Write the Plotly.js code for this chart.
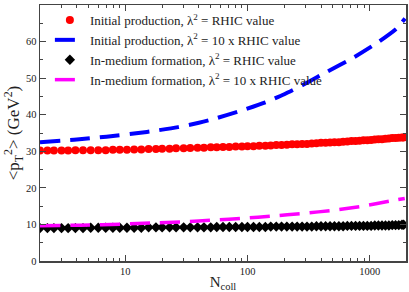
<!DOCTYPE html>
<html>
<head>
<meta charset="utf-8">
<script src="https://cdn.plot.ly/plotly-3.0.1.min.js"></script>
<style>html,body{margin:0;padding:0;background:#fff;}#chart{width:409px;height:292px;}</style>
</head>
<body>
<div id="chart"></div>
<script>
// N_coll values for marker series
const nColl = [2, 2.3, 2.6, 3, 3.4, 3.9, 4.5, 5.2, 6, 6.9, 7.9, 9, 10.3, 11.8, 13.5, 15.5, 17.8, 20, 23, 26, 30, 34, 39, 44, 50, 56, 63, 71, 80, 90, 100, 112, 125, 140, 155, 172, 190, 210, 232, 255, 280, 307, 336, 367, 400, 436, 474, 515, 560, 607, 657, 710, 767, 827, 890, 957, 1028, 1102, 1180, 1262, 1348, 1438, 1532, 1630, 1732, 1840, 1900];
// Initial production, lambda^2 = RHIC value
const initialRhic = [30.2, 30.2, 30.2, 30.2, 30.2, 30.3, 30.3, 30.3, 30.3, 30.3, 30.4, 30.4, 30.4, 30.5, 30.5, 30.6, 30.6, 30.7, 30.7, 30.8, 30.8, 30.9, 31.0, 31.0, 31.1, 31.1, 31.2, 31.2, 31.3, 31.3, 31.4, 31.4, 31.5, 31.5, 31.6, 31.7, 31.7, 31.8, 31.9, 31.9, 32.0, 32.0, 32.1, 32.2, 32.3, 32.3, 32.4, 32.5, 32.5, 32.6, 32.7, 32.8, 32.8, 32.9, 33.0, 33.0, 33.1, 33.2, 33.3, 33.3, 33.4, 33.5, 33.6, 33.6, 33.7, 33.8, 33.8];
// In-medium formation, lambda^2 = RHIC value
const mediumRhic = [9.0, 9.0, 9.0, 9.0, 9.0, 9.0, 9.0, 9.1, 9.1, 9.1, 9.1, 9.1, 9.1, 9.1, 9.1, 9.2, 9.2, 9.2, 9.2, 9.2, 9.2, 9.2, 9.2, 9.2, 9.2, 9.3, 9.3, 9.3, 9.3, 9.3, 9.3, 9.3, 9.3, 9.3, 9.4, 9.4, 9.4, 9.4, 9.4, 9.4, 9.4, 9.4, 9.4, 9.5, 9.5, 9.5, 9.5, 9.5, 9.5, 9.5, 9.6, 9.6, 9.6, 9.6, 9.6, 9.6, 9.6, 9.7, 9.7, 9.7, 9.7, 9.7, 9.8, 9.8, 9.8, 9.9, 9.9];
// Initial production, lambda^2 = 10 x RHIC value
const nBlue = [2, 4, 7, 15, 27, 40, 50, 90, 140, 200, 283, 445, 727, 1145, 1665, 1950];
const initialTen = [32.5, 33.2, 34.0, 35.3, 36.6, 37.8, 38.6, 41.2, 43.4, 45.6, 48.1, 51.7, 55.5, 59.6, 63.6, 66.3];
// In-medium formation, lambda^2 = 10 x RHIC value
const nPink = [2, 4.3, 9.8, 16, 30, 53, 94, 158, 283, 510, 880, 1530, 1940];
const mediumTen = [9.65, 9.8, 10.1, 10.4, 10.7, 11.2, 11.7, 12.3, 13.0, 13.9, 15.0, 16.5, 17.1];

const names = [
  'Initial production, \u03bb<sup>2</sup> = RHIC value',
  'Initial production, \u03bb<sup>2</sup> = 10 x RHIC value',
  'In-medium formation, \u03bb<sup>2</sup> = RHIC value',
  'In-medium formation, \u03bb<sup>2</sup> = 10 x RHIC value'
];
const xTickVals = [10, 100, 1000];
const xTickText = ['10', '100', '1000'];
const xMinorVals = [2,3,4,5,6,7,8,9,20,30,40,50,60,70,80,90,200,300,400,500,600,700,800,900];

const traces = [
  {x: nColl, y: initialRhic, name: names[0], type: 'scatter', mode: 'markers',
   marker: {symbol: 'circle', size: 8, color: '#ff0000'}},
  {x: nBlue, y: initialTen, name: names[1], type: 'scatter', mode: 'lines',
   line: {color: '#0000ff', width: 4, dash: '20px,10px', shape: 'spline', smoothing: 0.6}},
  {x: nColl, y: mediumRhic, name: names[2], type: 'scatter', mode: 'markers',
   marker: {symbol: 'diamond', size: 8, color: '#000000'}},
  {x: nPink, y: mediumTen, name: names[3], type: 'scatter', mode: 'lines',
   line: {color: '#ff00ff', width: 3.5, dash: '20px,10px', shape: 'spline', smoothing: 0.6}}
];

const serif = '"Liberation Serif", "Times New Roman", Times, serif';
const axisFont = {family: serif, size: 10.5, color: '#222'};
const layout = {
  width: 409, height: 292,
  margin: {l: 40, r: 3, t: 5, b: 31},
  paper_bgcolor: '#fff', plot_bgcolor: '#fff',
  font: {family: serif, color: '#222'},
  showlegend: true,
  legend: {x: 0.027, y: 1.0, xanchor: 'left', yanchor: 'top', bgcolor: 'rgba(0,0,0,0)',
           font: {family: serif, size: 13, color: '#222'}, tracegroupgap: 0},
  xaxis: {type: 'log', range: [Math.log10(2), Math.log10(1985)],
          tickmode: 'array', tickvals: xTickVals, ticktext: xTickText,
          ticks: 'inside', ticklen: 6, tickwidth: 1, tickcolor: '#444',
          minor: {tickmode: 'array', tickvals: xMinorVals, ticks: 'inside', ticklen: 3, tickcolor: '#444', showgrid: false},
          showline: true, linecolor: '#444', linewidth: 1.5, mirror: 'allticks',
          showgrid: false, zeroline: false, tickfont: axisFont,
          title: {text: 'N<sub>coll</sub>', font: {family: serif, size: 15, color: '#222'}, standoff: 2}},
  yaxis: {range: [0, 70], dtick: 10, tick0: 0,
          ticks: 'inside', ticklen: 6, tickwidth: 1, tickcolor: '#444',
          minor: {dtick: 5, ticks: 'inside', ticklen: 3, tickcolor: '#444', showgrid: false},
          showline: true, linecolor: '#444', linewidth: 1.5, mirror: 'allticks',
          showgrid: false, zeroline: false, tickfont: axisFont,
          title: {text: '&lt;p<sub>T</sub><sup>2</sup>&gt; (GeV<sup>2</sup>)', font: {family: serif, size: 17, color: '#222'}, standoff: 1}}
};
Plotly.newPlot('chart', traces, layout, {displayModeBar: false, staticPlot: true});
</script>
</body>
</html>
